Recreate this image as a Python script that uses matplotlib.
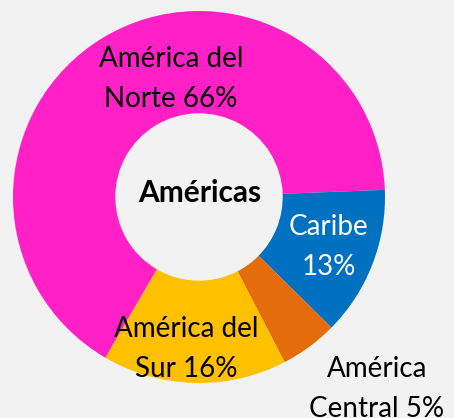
import matplotlib.pyplot as plt

# data
regions = ['América del\nNorte', 'Caribe', 'América\nCentral', 'América del\nSur']
shares = [66, 13, 5, 16]
colors = ['#FF21C6', '#0070C0', '#E46C0A', '#FFC000']
text_colors = ['black', 'white', 'black', 'black']
center_label = 'Américas'

plt.rcParams['font.family'] = ['Lato', 'DejaVu Sans']

W, H = 454, 418
fig = plt.figure(figsize=(W / 100, H / 100), dpi=100, facecolor='#F2F2F2')
# pie centre ~(199,197) px, radius ~186 px
ax = fig.add_axes([13 / W, 35 / H, 372 / W, 372 / H])
ax.set_facecolor('none')

start = 2.2 + 360 * shares[0] / 100
wedges, _ = ax.pie(shares, colors=colors, startangle=start, counterclock=False,
                   radius=1.0, wedgeprops=dict(width=0.55, linewidth=0))
ax.set_xlim(-1, 1)
ax.set_ylim(-1, 1)
ax.set_aspect('auto')
ax.axis('off')

# label anchor: centre x and first baseline (pixels from top)
label_px = [(171, 67), (329, 235), (377, 377), (186, 337)]
line_gap = 40
for name, val, (px, py), tc in zip(regions, shares, label_px, text_colors):
    if name == 'Caribe':
        lines = [name, f'{val}%']
    else:
        a, b = name.split('\n')
        lines = [a, f'{b} {val}%']
    for i, line in enumerate(lines):
        fig.text(px / W, 1 - (py + i * line_gap) / H, line, ha='center',
                 va='baseline', fontsize=20, color=tc)

fig.text(200 / W, 1 - 202 / H, center_label, ha='center', va='baseline',
         fontsize=21.5, fontweight='bold', color='black')

fig.savefig('out.png', dpi=100, facecolor=fig.get_facecolor())
